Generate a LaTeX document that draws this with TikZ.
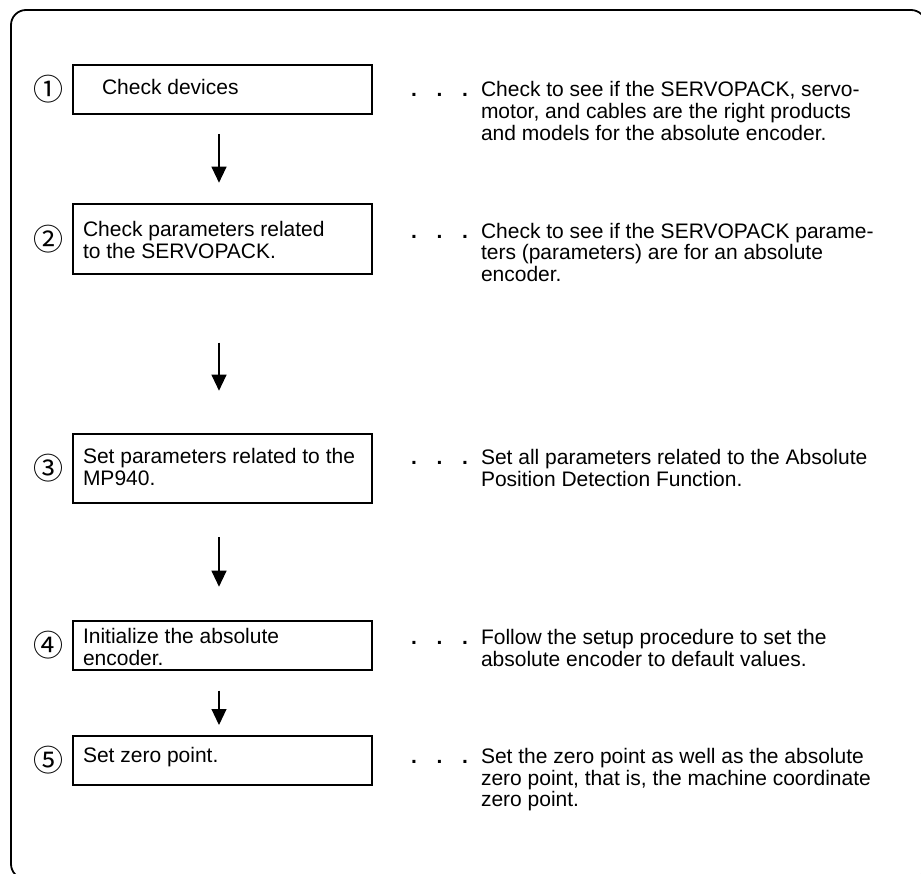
\documentclass[tikz,border=0pt]{standalone}
\usepackage{fontspec}
\setmainfont{Liberation Sans}
\newfontfamily\circfont{Noto Sans CJK JP}
\usetikzlibrary{arrows.meta,positioning}

\begin{document}
\begin{tikzpicture}[
    x=1pt, y=-1pt,
    every node/.style={font=\fontsize{21}{21.7}\selectfont, inner sep=0pt, outer sep=0pt},
    stepbox/.style={draw, line width=1.4pt, minimum width=299pt, anchor=north west},
    steptext/.style={anchor=base west, align=left},
    stepnum/.style={font=\circfont\fontsize{30}{30}\selectfont},
    dotrow/.style={anchor=base west, font=\fontsize{21}{21.7}\selectfont\bfseries},
    flowarrow/.style={line width=1.1pt, -{Triangle[length=16pt,width=15pt]}},
  ]
    \useasboundingbox (0,0) rectangle (921,874);
    \clip (0,0) rectangle (921,874);

    % ============ outer frame ============
    \draw[line width=1.8pt, rounded corners=15pt] (11,10) rectangle (926,879);

    % ============ steps ============
    \node[stepbox, minimum height=49pt] (b1) at (73,65) {};
    \node[stepbox, minimum height=70pt] (b2) at (73,204) {};
    \node[stepbox, minimum height=69pt] (b3) at (73,434) {};
    \node[stepbox, minimum height=49pt] (b4) at (73,621) {};
    \node[stepbox, minimum height=49pt] (b5) at (73,736) {};

    \node[stepnum] (n1) at (49,89.5) {①};
    \node[stepnum] (n2) at (49,239) {②};
    \node[stepnum] (n3) at (49,468.5) {③};
    \node[stepnum] (n4) at (49,645.5) {④};
    \node[stepnum] (n5) at (49,760.5) {⑤};

    % multi-line texts sit on the baseline of their last line
    \node[steptext] (t1) at (102,95) {Check devices};
    \node[steptext] (t2) at (83,258.4) {Check parameters related\\to the SERVOPACK.};
    \node[steptext] (t3) at (83,485) {Set parameters related to the\\MP940.};
    \node[steptext] (t4) at (83,665) {Initialize the absolute\\encoder.};
    \node[steptext] (t5) at (83,762.7) {Set zero point.};

    % ============ arrows between steps ============
    \foreach \from/\to/\gapa/\gapb in {b1/b2/20/21.3, b2/b3/68.7/43.3, b3/b4/34/34.3, b4/b5/20.7/11}{
      \draw[flowarrow, shorten <=\gapa pt, shorten >=\gapb pt]
        ([xshift=-3.5pt]\from.south) -- ([xshift=-3.5pt]\to.north);
    }

    % ============ explanations ============
    \node[dotrow] (d1) at (411,97) {.\hspace{19.7pt}.\hspace{19.7pt}.};
    \node[dotrow] (d2) at (411,238.3) {.\hspace{19.7pt}.\hspace{19.7pt}.};
    \node[dotrow] (d3) at (411,464.3) {.\hspace{19.7pt}.\hspace{19.7pt}.};
    \node[dotrow] (d4) at (411,644.3) {.\hspace{19.7pt}.\hspace{19.7pt}.};
    \node[dotrow] (d5) at (411,763.3) {.\hspace{19.7pt}.\hspace{19.7pt}.};

    \node[steptext] (c1) at (481,140.4)
      {Check to see if the SERVOPACK, servo-\\motor, and cables are the right products\\and models for the absolute encoder.};
    \node[steptext] (c2) at (481,281.7)
      {Check to see if the SERVOPACK parame-\\ters (parameters) are for an absolute\\encoder.};
    \node[steptext] (c3) at (481,486)
      {Set all parameters related to the Absolute\\Position Detection Function.};
    \node[steptext] (c4) at (481,666)
      {Follow the setup procedure to set the\\absolute encoder to default values.};
    \node[steptext] (c5) at (481,806.7)
      {Set the zero point as well as the absolute\\zero point, that is, the machine coordinate\\zero point.};
  \end{tikzpicture}
\end{document}
